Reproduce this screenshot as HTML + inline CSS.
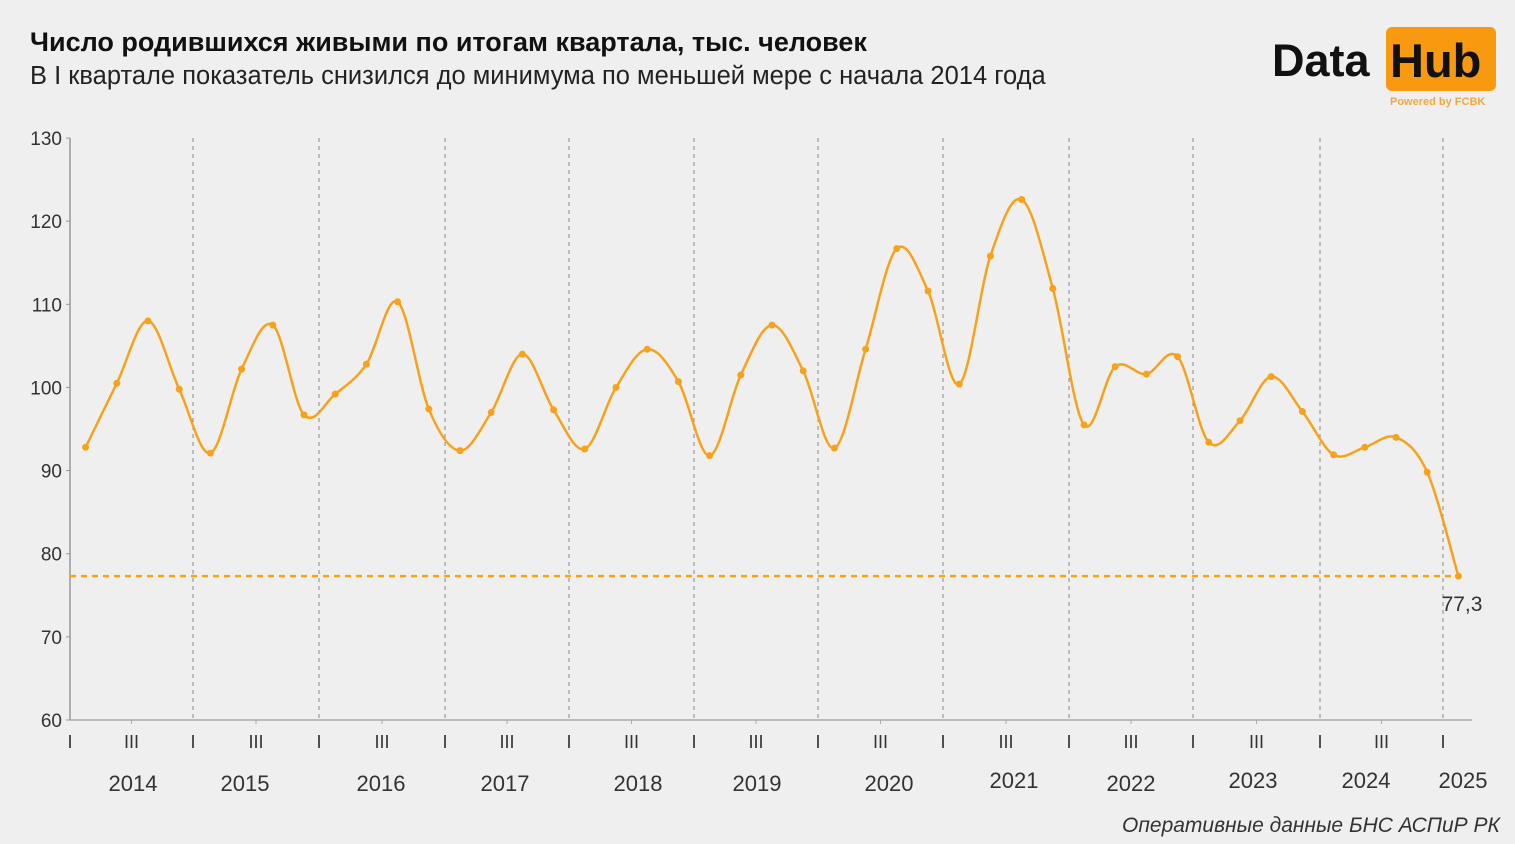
<!DOCTYPE html>
<html><head><meta charset="utf-8"><style>
body{margin:0;width:1515px;height:839px;background:#efefef;overflow:hidden;font-family:"Liberation Sans",sans-serif;}
</style></head><body>
<svg id="s" width="1515" height="839" xmlns="http://www.w3.org/2000/svg" font-family="Liberation Sans, sans-serif">
<text x="30" y="51" font-size="27" font-weight="bold" fill="#111">Число родившихся живыми по итогам квартала, тыс. человек</text>
<text x="30" y="84" font-size="25.5" fill="#222">В I квартале показатель снизился до минимума по меньшей мере с начала 2014 года</text>
<text x="1272" y="76" font-size="45" font-weight="bold" fill="#111">Data</text>
<rect x="1386" y="27" width="110" height="64" rx="6" fill="#f79a10"/>
<text x="1390" y="77" font-size="47" font-weight="bold" fill="#111">Hub</text>
<text x="1390" y="105" font-size="11" font-weight="bold" fill="#f4a640">Powered by FCBK</text>
<g id="g"></g>
<text x="1122" y="832" font-size="21" font-style="italic" fill="#333">Оперативные данные БНС АСПиР РК</text>
</svg>
<script>
const g=document.getElementById('g');let h='';
const Y=v=>720-(v-60)*8.314;
for(let v=60;v<=130;v+=10){h+=`<text x="62" y="${Y(v)+7}" font-size="19" fill="#333" text-anchor="end">${v}</text><line x1="66" x2="70" y1="${Y(v)}" y2="${Y(v)}" stroke="#999"/>`;}
h+=`<line x1="70" x2="70" y1="138" y2="720" stroke="#999" stroke-width="1.5"/><line x1="70" x2="1472" y1="720" y2="720" stroke="#aaa" stroke-width="1.5"/>`;
const b=[70,193,319,445,569,694,818,943,1069,1193,1320,1443];
for(let i=0;i<b.length;i++){
 if(i>0)h+=`<line x1="${b[i]}" x2="${b[i]}" y1="138" y2="720" stroke="#888" stroke-dasharray="4,4"/>`;
 h+=`<text x="${b[i]}" y="748" font-size="18" fill="#333" text-anchor="middle">I</text>`;
 if(i<11){const m=(b[i]+b[i+1])/2;h+=`<text x="${m}" y="748" font-size="18" fill="#333" text-anchor="middle">III</text><line x1="${m}" x2="${m}" y1="720" y2="724" stroke="#aaa"/>`;}
}
const yl=[[133,784,'2014'],[245,784,'2015'],[381,784,'2016'],[505,784,'2017'],[638,784,'2018'],[757,784,'2019'],[889,784,'2020'],[1014,781,'2021'],[1131,784,'2022'],[1253,781,'2023'],[1366,781,'2024'],[1463,781,'2025']];
yl.forEach(a=>h+=`<text x="${a[0]}" y="${a[1]+7}" font-size="22" fill="#333" text-anchor="middle">${a[2]}</text>`);
h+=`<line x1="70" x2="1460" y1="${Y(77.3)}" y2="${Y(77.3)}" stroke="#f7a21b" stroke-width="2.5" stroke-dasharray="6,5"/>`;
const d=[92.8,100.5,108,99.8,92.1,102.2,107.5,96.7,99.2,102.8,110.3,97.4,92.4,97,104,97.3,92.6,100,104.6,100.7,91.8,101.5,107.5,102,92.7,104.6,116.7,111.6,100.4,115.8,122.6,111.9,95.5,102.5,101.6,103.7,93.4,96,101.3,97.1,91.9,92.8,94,89.8,77.3];
const P=d.map((v,i)=>[85.6+31.2*i,Y(v)]);
let p=`M${P[0][0]},${P[0][1]}`;
for(let i=0;i<P.length-1;i++){const p0=P[Math.max(0,i-1)],p1=P[i],p2=P[i+1],p3=P[Math.min(P.length-1,i+2)];
 p+=` C${p1[0]+(p2[0]-p0[0])/6},${p1[1]+(p2[1]-p0[1])/6} ${p2[0]-(p3[0]-p1[0])/6},${p2[1]-(p3[1]-p1[1])/6} ${p2[0]},${p2[1]}`;}
h+=`<path d="${p}" fill="none" stroke="#f7a21b" stroke-width="2.5"/>`;
P.forEach(q=>h+=`<circle cx="${q[0]}" cy="${q[1]}" r="3.5" fill="#f7a21b"/>`);
h+=`<text x="1462" y="611" font-size="21" fill="#333" text-anchor="middle">77,3</text>`;
g.innerHTML=h;
</script>
</body></html>
